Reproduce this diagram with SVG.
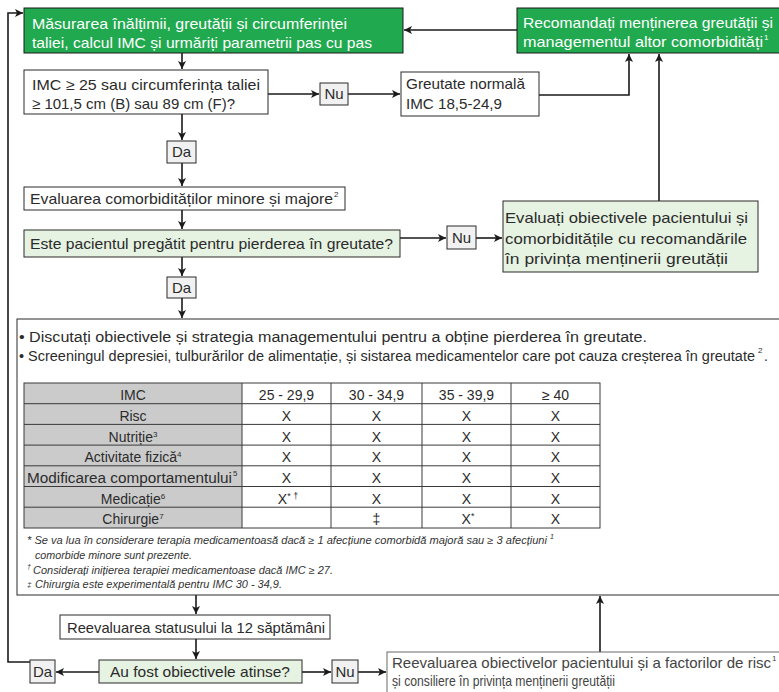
<svg xmlns="http://www.w3.org/2000/svg" width="779" height="692" viewBox="0 0 779 692">
<style>
text{font-family:"Liberation Sans",Arial,sans-serif;fill:#2b2b2b;font-size:15px}
.w{fill:#ffffff}
.dg{fill:#21a94f;stroke:#1a1a1a;stroke-width:1}
.lg{fill:#e6f2e2;stroke:#2b2b2b;stroke-width:1}
.wb{fill:#ffffff;stroke:#2b2b2b;stroke-width:1}
.sb{fill:#f1f1f1;stroke:#2b2b2b;stroke-width:1}
.c{text-anchor:middle}
.t{font-size:14px}
.b{font-size:14px}
.fn{font-size:10.5px;font-style:italic;fill:#333}
.sup{font-size:9px}
.con path{fill:none;stroke:#1a1a1a;stroke-width:1.6}
.tl{stroke:#3a3a3a;stroke-width:1;fill:none}
</style>
<defs>
<marker id="ah" viewBox="0 0 10 10" refX="10" refY="5" markerWidth="9" markerHeight="8" markerUnits="userSpaceOnUse" orient="auto">
<path d="M0,0 L10,5 L0,10 L2.5,5 z" fill="#1a1a1a"/>
</marker>
</defs>
<rect width="779" height="692" fill="#ffffff"/>

<g id="connectors" class="con">
<path d="M182,53 V69" marker-end="url(#ah)"/>
<path d="M268,94 H319" marker-end="url(#ah)"/>
<path d="M348,94 H400" marker-end="url(#ah)"/>
<path d="M539,95 H629 V54" marker-end="url(#ah)"/>
<path d="M517,30 H404" marker-end="url(#ah)"/>
<path d="M182,114 V140" marker-end="url(#ah)"/>
<path d="M182,163 V186" marker-end="url(#ah)"/>
<path d="M182,210 V229" marker-end="url(#ah)"/>
<path d="M400,238 H446" marker-end="url(#ah)"/>
<path d="M476,238 H502" marker-end="url(#ah)"/>
<path d="M659,201 V54" marker-end="url(#ah)"/>
<path d="M182,257 V276" marker-end="url(#ah)"/>
<path d="M182,298 V318" marker-end="url(#ah)"/>
<path d="M196,595 V614" marker-end="url(#ah)"/>
<path d="M196,639 V659" marker-end="url(#ah)"/>
<path d="M99,672 H56" marker-end="url(#ah)"/>
<path d="M302,672 H331" marker-end="url(#ah)"/>
<path d="M358,672 H386" marker-end="url(#ah)"/>
<path d="M600,652 V596" marker-end="url(#ah)"/>
<path d="M30,662 H8 V13 H23" marker-end="url(#ah)"/>
</g>

<g id="n-masurare">
<rect class="dg" x="24" y="8" width="379" height="45"/>
<text class="w" x="32" y="29" textLength="315" lengthAdjust="spacingAndGlyphs">Măsurarea înălțimii, greutății și circumferinței</text>
<text class="w" x="32" y="48" textLength="340" lengthAdjust="spacingAndGlyphs">taliei, calcul IMC și urmăriți parametrii pas cu pas</text>
</g>

<g id="n-recomandati">
<rect class="dg" x="517" y="8" width="270" height="45"/>
<text class="w" x="523" y="28" textLength="250" lengthAdjust="spacingAndGlyphs">Recomandați menținerea greutății și</text>
<text class="w" x="523" y="47" textLength="240" lengthAdjust="spacingAndGlyphs">managementul altor comorbidități</text>
<text class="w sup" x="764" y="40" style="font-size:8px">1</text>
</g>

<g id="n-imc">
<rect class="wb" x="24" y="70" width="244" height="44"/>
<text x="32" y="90" textLength="228" lengthAdjust="spacingAndGlyphs">IMC ≥ 25 sau circumferința taliei</text>
<text x="32" y="109" textLength="203" lengthAdjust="spacingAndGlyphs">≥ 101,5 cm (B) sau 89 cm (F)?</text>
</g>

<g id="n-nu1">
<rect class="sb" x="320" y="83" width="28" height="22"/>
<text class="c" x="334" y="99">Nu</text>
</g>

<g id="n-greutate">
<rect class="wb" x="401" y="72" width="138" height="44"/>
<text x="406" y="89" textLength="119" lengthAdjust="spacingAndGlyphs">Greutate normală</text>
<text x="406" y="109" textLength="96" lengthAdjust="spacingAndGlyphs">IMC 18,5-24,9</text>
</g>

<g id="n-da1">
<rect class="sb" x="167" y="141" width="29" height="22"/>
<text class="c" x="181.5" y="157">Da</text>
</g>

<g id="n-evaluare">
<rect class="wb" x="24" y="187" width="321" height="23"/>
<text x="30" y="204" textLength="303" lengthAdjust="spacingAndGlyphs">Evaluarea comorbidităților minore și majore</text>
<text class="sup" x="334" y="197" style="font-size:8px">2</text>
</g>

<g id="n-este">
<rect class="lg" x="24" y="230" width="376" height="27"/>
<text x="30" y="249" textLength="363" lengthAdjust="spacingAndGlyphs">Este pacientul pregătit pentru pierderea în greutate?</text>
</g>

<g id="n-nu2">
<rect class="sb" x="447" y="226" width="29" height="23"/>
<text class="c" x="461.5" y="243">Nu</text>
</g>

<g id="n-evaluati">
<rect class="lg" x="503" y="201" width="255" height="71"/>
<text x="505" y="223" textLength="243" lengthAdjust="spacingAndGlyphs">Evaluați obiectivele pacientului și</text>
<text x="505" y="244" textLength="242" lengthAdjust="spacingAndGlyphs">comorbiditățile cu recomandările</text>
<text x="505" y="264" textLength="223" lengthAdjust="spacingAndGlyphs">în privința menținerii greutății</text>
</g>

<g id="n-da2">
<rect class="sb" x="167" y="277" width="29" height="21"/>
<text class="c" x="181.5" y="293">Da</text>
</g>

<g id="n-management">
<rect class="wb" x="17" y="319" width="780" height="276"/>
<text class="b" x="19" y="342" textLength="628" lengthAdjust="spacingAndGlyphs">• Discutați obiectivele și strategia managementului pentru a obține pierderea în greutate.</text>
<text class="b" x="19" y="361" textLength="736" lengthAdjust="spacingAndGlyphs">• Screeningul depresiei, tulburărilor de alimentație, și sistarea medicamentelor care pot cauza creșterea în greutate</text>
<text x="758" y="353" style="font-size:8px">2</text>
<text class="b" x="764" y="361">.</text>

<g id="table">
<rect x="24" y="383" width="218" height="145" fill="#cbcbcb"/>
<rect x="24" y="383" width="576" height="145" class="tl"/>
<path class="tl" d="M24,403.7 H600 M24,424.4 H600 M24,445.1 H600 M24,465.8 H600 M24,486.5 H600 M24,507.2 H600 M242,383 V528 M331,383 V528 M422,383 V528 M511,383 V528"/>
<g class="t">
<text class="c t" x="133" y="400">IMC</text>
<text class="c t" x="286.5" y="400">25 - 29,9</text>
<text class="c t" x="376.5" y="400">30 - 34,9</text>
<text class="c t" x="466.5" y="400">35 - 39,9</text>
<text class="c t" x="555.5" y="400">≥ 40</text>

<text class="c t" x="133" y="421">Risc</text>
<text class="c t" x="286.5" y="421">X</text>
<text class="c t" x="376.5" y="421">X</text>
<text class="c t" x="466.5" y="421">X</text>
<text class="c t" x="555.5" y="421">X</text>

<text class="c t" x="133" y="441.5">Nutriție<tspan class="sup" dy="-5" style="font-size:8px">3</tspan></text>
<text class="c t" x="286.5" y="441.5">X</text>
<text class="c t" x="376.5" y="441.5">X</text>
<text class="c t" x="466.5" y="441.5">X</text>
<text class="c t" x="555.5" y="441.5">X</text>

<text class="c t" x="133" y="462.2">Activitate fizică<tspan class="sup" dy="-5" style="font-size:8px">4</tspan></text>
<text class="c t" x="286.5" y="462.2">X</text>
<text class="c t" x="376.5" y="462.2">X</text>
<text class="c t" x="466.5" y="462.2">X</text>
<text class="c t" x="555.5" y="462.2">X</text>

<text class="t" x="27" y="483" textLength="205" lengthAdjust="spacingAndGlyphs">Modificarea comportamentului</text>
<text class="sup" x="233" y="476" style="font-size:8px">5</text>
<text class="c t" x="286.5" y="483">X</text>
<text class="c t" x="376.5" y="483">X</text>
<text class="c t" x="466.5" y="483">X</text>
<text class="c t" x="555.5" y="483">X</text>

<text class="c t" x="133" y="503.6">Medicație<tspan class="sup" dy="-5" style="font-size:8px">6</tspan></text>
<text class="c t" x="288" y="503.6">X<tspan class="sup" dy="-5" style="font-size:9px">* †</tspan></text>
<text class="c t" x="376.5" y="503.6">X</text>
<text class="c t" x="466.5" y="503.6">X</text>
<text class="c t" x="555.5" y="503.6">X</text>

<text class="c t" x="133" y="524.3">Chirurgie<tspan class="sup" dy="-5" style="font-size:8px">7</tspan></text>
<text class="c t" x="376.5" y="524.3">‡</text>
<text class="c t" x="468" y="524.3">X<tspan class="sup" dy="-5" style="font-size:9px">*</tspan></text>
<text class="c t" x="555.5" y="524.3">X</text>
</g>
</g>

<text class="fn" x="27" y="544" textLength="520" lengthAdjust="spacingAndGlyphs">* Se va lua în considerare terapia medicamentoasă dacă  ≥ 1 afecțiune comorbidă majoră sau ≥ 3 afecțiuni</text>
<text class="fn" x="550" y="539" style="font-size:7px">1</text>
<text class="fn" x="35" y="559" textLength="157" lengthAdjust="spacingAndGlyphs">comorbide minore sunt prezente.</text>
<text class="fn" x="27" y="569" style="font-size:7px">†</text>
<text class="fn" x="33" y="574" textLength="300" lengthAdjust="spacingAndGlyphs">Considerați inițierea terapiei medicamentoase dacă IMC ≥ 27.</text>
<text class="fn" x="27" y="587" style="font-size:8px">‡</text>
<text class="fn" x="35" y="588" textLength="247" lengthAdjust="spacingAndGlyphs">Chirurgia este experimentală pentru IMC 30 - 34,9.</text>
</g>

<g id="n-reevaluare-status">
<rect class="wb" x="60" y="615" width="270" height="24"/>
<text x="67" y="633" textLength="258" lengthAdjust="spacingAndGlyphs">Reevaluarea statusului la 12 săptămâni</text>
</g>

<g id="n-aufost">
<rect class="lg" x="99" y="660" width="203" height="23"/>
<text x="110" y="677" textLength="180" lengthAdjust="spacingAndGlyphs">Au fost obiectivele atinse?</text>
</g>

<g id="n-da3">
<rect class="sb" x="30" y="660" width="25" height="23"/>
<text class="c" x="42.5" y="677">Da</text>
</g>

<g id="n-nu3">
<rect class="sb" x="332" y="660" width="26" height="23"/>
<text class="c" x="345" y="677">Nu</text>
</g>

<g id="n-reevaluare-obiective">
<rect x="387" y="652" width="420" height="50" fill="#ffffff" stroke="#6a6a6a" stroke-width="1"/>
<text x="392" y="668" textLength="379" lengthAdjust="spacingAndGlyphs" style="fill:#444">Reevaluarea obiectivelor pacientului și a factorilor de risc</text>
<text x="772" y="661" style="font-size:8px;fill:#444">1</text>
<text x="392" y="686" textLength="223" lengthAdjust="spacingAndGlyphs" style="fill:#444">și consiliere în privința menținerii greutății</text>
</g>
</svg>
